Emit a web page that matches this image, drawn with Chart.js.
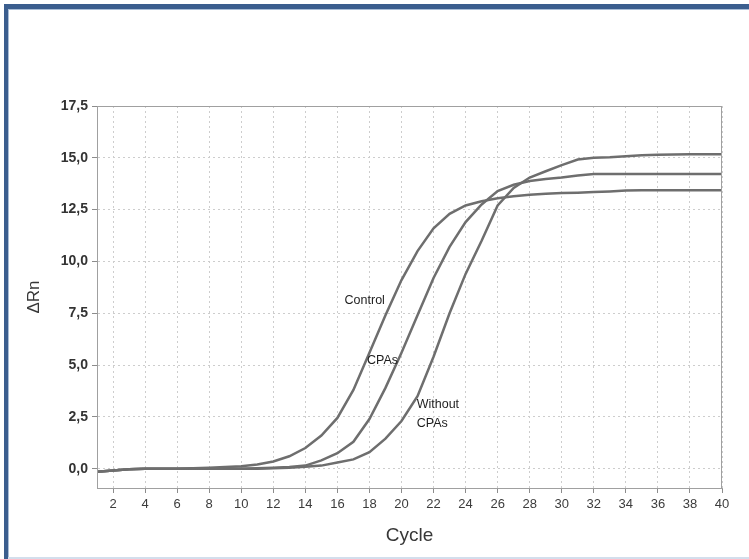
<!DOCTYPE html>
<html>
<head>
<meta charset="utf-8">
<script src="https://cdn.jsdelivr.net/npm/chart.js@4.4.1/dist/chart.umd.min.js"></script>
<style>
  html, body { margin: 0; padding: 0; background: #ffffff; }
  #wrap { position: relative; width: 749px; height: 559px; overflow: hidden; background: #ffffff; }
  #chart { position: absolute; left: 0; top: 0; }
  .frame { position: absolute; z-index: 2; }
  #fTop { left: 4px; top: 4px; width: 745px; height: 5px; background: #3b5e8e; }
  #fTopIn { left: 8px; top: 9px; width: 741px; height: 1px; background: #a9bdd6; }
  #fLeft { left: 4px; top: 4px; width: 4px; height: 555px; background: #3b5e8e; }
  #fLeftIn { left: 8px; top: 9px; width: 1px; height: 550px; background: #a9bdd6; }
  #fBottom { left: 8px; top: 557px; width: 741px; height: 2px; background: #d3deec; }
</style>
</head>
<body>
<div id="wrap">
  <canvas id="chart" width="749" height="559"></canvas>
  <div class="frame" id="fTop"></div>
  <div class="frame" id="fTopIn"></div>
  <div class="frame" id="fLeft"></div>
  <div class="frame" id="fLeftIn"></div>
  <div class="frame" id="fBottom"></div>
</div>
<script>
// ---- Data ----
const cycles = [1,2,3,4,5,6,7,8,9,10,11,12,13,14,15,16,17,18,19,20,21,22,23,24,25,26,27,28,29,30,31,32,33,34,35,36,37,38,39,40];

const controlValues = [-0.15,-0.08,-0.03,0,0,0,0.02,0.05,0.08,0.12,0.2,0.35,0.6,1.0,1.6,2.45,3.8,5.6,7.4,9.1,10.5,11.6,12.3,12.7,12.9,13.05,13.15,13.22,13.27,13.3,13.32,13.35,13.38,13.42,13.43,13.43,13.43,13.43,13.43,13.43];

const cpasValues = [-0.15,-0.08,-0.03,0,0,0,0,0,0,0,0.02,0.05,0.08,0.15,0.4,0.75,1.3,2.4,3.9,5.6,7.4,9.2,10.7,11.9,12.75,13.4,13.7,13.88,13.98,14.05,14.15,14.22,14.22,14.22,14.22,14.22,14.22,14.22,14.22,14.22];

const withoutCpasValues = [-0.15,-0.08,-0.03,0,0,0,0,0,0,0,0,0.02,0.05,0.1,0.15,0.3,0.45,0.8,1.45,2.3,3.5,5.4,7.5,9.4,11.0,12.7,13.55,14.05,14.35,14.65,14.92,15.0,15.03,15.08,15.12,15.15,15.16,15.17,15.17,15.17];

const xTickValues = [2,4,6,8,10,12,14,16,18,20,22,24,26,28,30,32,34,36,38,40];
const yTickValues = [0,2.5,5,7.5,10,12.5,15,17.5];
const yTickLabels = ['0,0','2,5','5,0','7,5','10,0','12,5','15,0','17,5'];

const curveLabelTexts = ['Control', 'CPAs', 'Without', 'CPAs'];
const curveLabelCycles = [16.45, 17.85, 20.95, 20.95];
const curveLabelValues = [8.1, 5.2, 3.1, 2.2];

const xTitle = 'Cycle';
const yTitle = '\u0394Rn';

// ---- Build datasets ----
function toPoints(vals) { return cycles.map((c, i) => ({ x: c, y: vals[i] })); }
const lineColor = '#6e6e6e';
function ds(label, vals) {
  return { label, data: toPoints(vals), borderColor: lineColor, borderWidth: 2.5,
           pointRadius: 0, tension: 0, fill: false };
}

const plotFrame = {
  id: 'plotFrame',
  afterDatasetsDraw(chart) {
    const { ctx, chartArea: a } = chart;
    ctx.save();
    ctx.setLineDash([]);
    ctx.strokeStyle = '#a0a0a0';
    ctx.lineWidth = 1;
    ctx.strokeRect(a.left + 0.5, a.top + 0.5, a.right - a.left - 1, a.bottom - a.top);
    ctx.restore();
  }
};

const curveLabels = {
  id: 'curveLabels',
  afterDatasetsDraw(chart) {
    const { ctx, scales: { x, y } } = chart;
    ctx.save();
    ctx.font = '12.5px "Liberation Sans", Arial, sans-serif';
    ctx.fillStyle = '#1e1e1e';
    ctx.textAlign = 'left';
    ctx.textBaseline = 'middle';
    curveLabelTexts.forEach((t, i) => {
      ctx.fillText(t, x.getPixelForValue(curveLabelCycles[i]), y.getPixelForValue(curveLabelValues[i]));
    });
    ctx.restore();
  }
};

const gridOpts = { color: '#cdcdcd', lineWidth: 1, tickLength: 5, tickColor: '#8c8c8c', tickBorderDash: [], drawTicks: true };
const borderOpts = { display: true, color: '#a0a0a0', width: 1, dash: [2, 3] };

new Chart(document.getElementById('chart'), {
  type: 'line',
  data: { datasets: [ds('Control', controlValues), ds('CPAs', cpasValues), ds('Without CPAs', withoutCpasValues)] },
  options: {
    responsive: false,
    animation: false,
    layout: { padding: { left: 0, right: 27, top: 106, bottom: 0 } },
    plugins: { legend: { display: false }, tooltip: { enabled: false } },
    scales: {
      x: {
        type: 'linear', min: 1, max: 40,
        afterBuildTicks: s => { s.ticks = xTickValues.map(v => ({ value: v })); },
        afterFit: s => { s.height = 71; },
        ticks: { autoSkip: false, maxRotation: 0, padding: 4, color: '#3c3c3c',
                 font: { family: '"Liberation Sans Narrow", "Arial Narrow", "Liberation Sans", Arial, sans-serif', size: 13 },
                 callback: v => String(v) },
        grid: gridOpts,
        border: borderOpts,
        title: { display: true, text: xTitle, color: '#383838', padding: { top: 0, bottom: 12 },
                 font: { family: '"Liberation Sans", Arial, sans-serif', size: 19 } }
      },
      y: {
        type: 'linear', min: -0.93, max: 17.5,
        afterBuildTicks: s => { s.ticks = yTickValues.map(v => ({ value: v })); },
        afterFit: s => { s.width = 97; },
        ticks: { autoSkip: false, padding: 4, color: '#333333',
                 font: { family: '"Liberation Sans", Arial, sans-serif', size: 14, weight: 'bold' },
                 callback: (v) => { const i = yTickValues.indexOf(v); return i >= 0 ? yTickLabels[i] : ''; } },
        grid: gridOpts,
        border: borderOpts,
        title: { display: true, text: yTitle, color: '#383838', padding: { top: 24, bottom: 0 },
                 font: { family: '"Liberation Sans", Arial, sans-serif', size: 17 } }
      }
    }
  },
  plugins: [plotFrame, curveLabels]
});
</script>
</body>
</html>
